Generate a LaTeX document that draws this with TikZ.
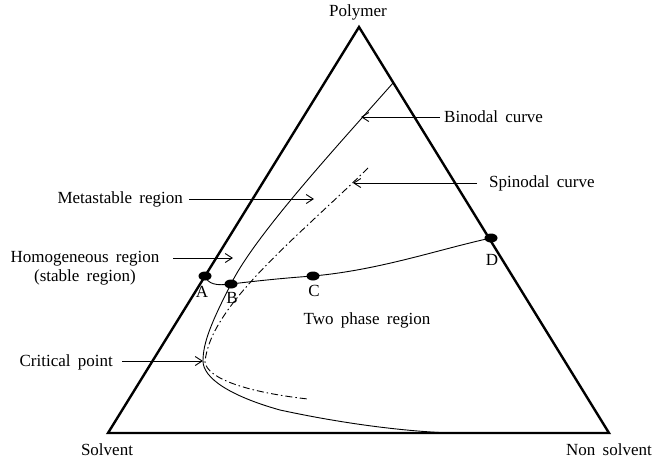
\documentclass[tikz,border=0pt]{standalone}
\usepackage{fontspec}
\setmainfont[WordSpace=1.7]{Liberation Serif}
\usetikzlibrary{arrows.meta,shapes.geometric}
\tikzset{
  side/.style={line width=2.4pt, line join=miter},
  curveline/.style={line width=0.9pt},
  dashdotline/.style={line width=0.9pt, dash pattern=on 7pt off 3pt on 1.5pt off 3pt},
  pointer/.style={line width=0.9pt, -{Straight Barb[length=7pt,width=9pt,line width=0.9pt]}},
  dot/.style={ellipse, fill=black, inner sep=0pt, minimum width=13pt, minimum height=9pt},
  lbl/.style={inner sep=0pt, font=\fontsize{17}{19.5}\selectfont},
}
\begin{document}
\begin{tikzpicture}[x=1pt,y=-1pt]
\useasboundingbox (0,0) rectangle (653,461);
% corners
\coordinate (P) at (359,27);
\coordinate (S) at (108,433);
\coordinate (N) at (609,433);
\draw[side] (S) -- (P) -- (N) -- cycle;
% labels of corners
\node[lbl] (poly) at (358,12) {Polymer};
\node[lbl] (solv) at (107,450) {Solvent};
\node[lbl] (nons) at (609,450) {Non solvent};
% dots
\node[dot] (A) at (205,276) {};
\node[dot] (B) at (231,284) {};
\node[dot] (C) at (313,276) {};
\node[dot] (D) at (491,238) {};
% binodal
\coordinate (T) at (393,83);
\coordinate (cp) at (203,361);
\draw[curveline] (T) .. controls (340,143) and (255,235) .. (B.center)
  .. controls (211,323) and (203,343) .. (cp)
  .. controls (203,378) and (230,396) .. (280,410)
  .. controls (340,423) and (400,431) .. (450,433);
% spinodal
\coordinate (sp) at (205,362);
\draw[dashdotline] (368,168) .. controls (300,235) and (210,305) .. (sp)
  .. controls (207,378) and (245,392) .. (308,399);
% tie line
\draw[curveline] (A.center) .. controls (208,284) and (216,286) .. (B.center)
  .. controls (260,280.5) and (285,278) .. (C.center)
  .. controls (380,270) and (440,249) .. (D.center);
\node[lbl] (Al) at (202,292) {A};
\node[lbl] (Bl) at (232,298) {B};
\node[lbl] (Cl) at (314,291) {C};
\node[lbl] (Dl) at (492,260) {D};
% annotations
\node[lbl, anchor=west] (bin) at (444,117) {Binodal curve};
\coordinate (binend) at (361,117);
\draw[pointer] (bin.west) ++(-4,0) -- (binend);
\node[lbl, anchor=west] (spi) at (489,183) {Spinodal curve};
\coordinate (spiend) at (353,183);
\draw[pointer] (477,183) -- (spiend);
\node[lbl, anchor=east] (meta) at (183,199) {Metastable region};
\coordinate (metaend) at (314,199);
\draw[pointer] (189,199) -- (metaend);
\node[lbl, align=center] (homo) at (85,268) {Homogeneous region\\(stable region)};
\coordinate (homoend) at (233,258);
\draw[pointer] (173,258) -- (homoend);
\node[lbl, anchor=east] (crit) at (113,362) {Critical point};
\draw[pointer] (122,361) -- (cp);
\node[lbl] (two) at (367,320) {Two phase region};
\end{tikzpicture}
\end{document}
